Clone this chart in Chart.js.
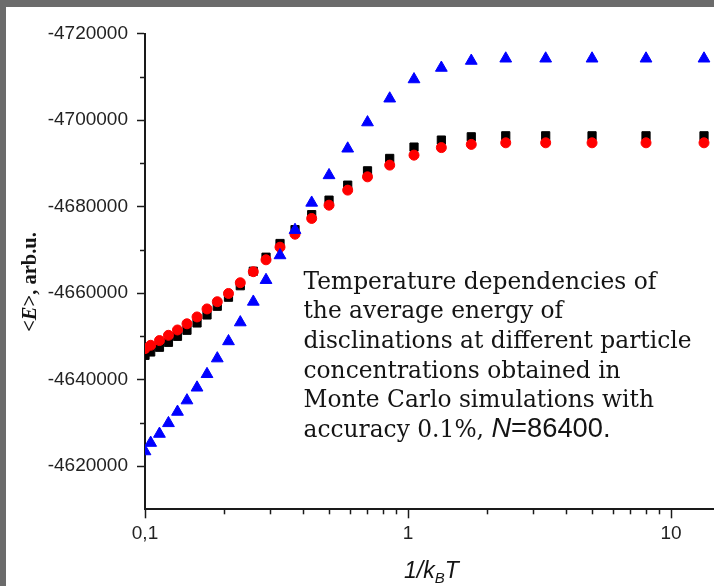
<!DOCTYPE html>
<html><head><meta charset="utf-8">
<script src="https://cdn.jsdelivr.net/npm/chart.js@4.4.1/dist/chart.umd.min.js"></script>
<style>
html,body{margin:0;padding:0;width:714px;height:586px;overflow:hidden;background:#6b6b6b;}
#wrap{position:absolute;left:6px;top:7px;width:708px;height:579px;background:#ffffff;}
canvas{display:block;}
</style></head><body>
<div id="wrap"><canvas id="c" width="708" height="579"></canvas></div>
<script>
// 1/kBT values
const xValues = [0.1, 0.1051, 0.1135, 0.1228, 0.1329, 0.1444, 0.1577, 0.1721, 0.1883, 0.2077,
  0.2303, 0.2581, 0.2885, 0.3261, 0.3719, 0.4303, 0.5009, 0.5898, 0.7015, 0.852,
  1.054, 1.339, 1.74, 2.353, 3.338, 5.009, 8.035, 13.35];
const blackSquares = [-4645600, -4646370, -4647460, -4648610, -4650000, -4651390, -4653080, -4654930, -4656940, -4659030,
  -4661690, -4665040, -4668280, -4671450, -4674650, -4678120, -4681470, -4684940, -4688250, -4691120,
  -4693740, -4695360, -4696120, -4696350, -4696350, -4696350, -4696350, -4696350];
const redCircles = [-4647150, -4647920, -4649010, -4650230, -4651460, -4652890, -4654470, -4656320, -4657990, -4659900,
  -4662380, -4664930, -4667680, -4670600, -4673600, -4677240, -4680310, -4683790, -4686860, -4689570,
  -4691880, -4693620, -4694360, -4694730, -4694730, -4694730, -4694730, -4694730];
const blueTriangles = [-4623400, -4625350, -4627440, -4629910, -4632530, -4635170, -4638130, -4641250, -4644880, -4648840,
  -4653210, -4657980, -4663000, -4668720, -4674570, -4680870, -4687230, -4693390, -4699450, -4704960,
  -4709400, -4712060, -4713680, -4714200, -4714200, -4714200, -4714200, -4714200];

const yTickValues = [-4720000, -4700000, -4680000, -4660000, -4640000, -4620000];
const yMinorTicks = [-4710000, -4690000, -4670000, -4650000, -4630000];
const xTickValues = [0.1, 1, 10];
const xTickLabels = ['0,1', '1', '10'];
const xMinorTicks = [0.2, 0.3, 0.4, 0.5, 0.6, 0.7, 0.8, 0.9, 2, 3, 4, 5, 6, 7, 8, 9];
const annotationLines = [
  'Temperature dependencies of',
  'the average energy of',
  'disclinations at different particle',
  'concentrations obtained in',
  'Monte Carlo simulations with'
];
const annotationLast = ['accuracy 0.1%, ', 'N', '=86400.'];

const toPts = ys => xValues.map((x, i) => ({x: x, y: ys[i]}));
const AX = '#1a1a1a';

const extras = {
  id: 'extras',
  afterDraw(chart) {
    const ctx = chart.ctx, xs = chart.scales.x, ys = chart.scales.y;
    ctx.save();
    ctx.strokeStyle = AX; ctx.lineWidth = 1.5;
    xMinorTicks.forEach(v => {
      const px = Math.round(xs.getPixelForValue(v)) + 0.5;
      ctx.beginPath(); ctx.moveTo(px, ys.bottom); ctx.lineTo(px, ys.bottom + 5); ctx.stroke();
    });
    yMinorTicks.forEach(v => {
      const py = Math.round(ys.getPixelForValue(v)) + 0.5;
      ctx.beginPath(); ctx.moveTo(xs.left, py); ctx.lineTo(xs.left - 5, py); ctx.stroke();
    });
    // annotation
    ctx.fillStyle = '#141414';
    ctx.textAlign = 'left'; ctx.textBaseline = 'alphabetic';
    ctx.font = '22px "DejaVu Serif"';
    const w = ctx.measureText(annotationLines[2]).width;
    const fs = 22 * 388 / w;
    const serif = fs.toFixed(2) + 'px "DejaVu Serif"';
    const ax = 297.5, ay = 281.7, lh = 29.6;
    ctx.font = serif;
    annotationLines.forEach((t, i) => ctx.fillText(t, ax, ay + i * lh));
    let cx = ax; const ly = ay + 5 * lh;
    ctx.font = serif; ctx.fillText(annotationLast[0], cx, ly); cx += ctx.measureText(annotationLast[0]).width;
    ctx.font = 'italic ' + (fs * 1.17).toFixed(2) + 'px "Liberation Sans"'; ctx.fillText(annotationLast[1], cx, ly); cx += ctx.measureText(annotationLast[1]).width;
    ctx.font = (fs * 1.17).toFixed(2) + 'px "Liberation Sans"'; ctx.fillText(annotationLast[2], cx, ly);
    // x title
    const xt = [['1/k', 'italic 23px "Liberation Sans"', 0], ['B', 'italic 15px "Liberation Sans"', 5], ['T', 'italic 23px "Liberation Sans"', 0]];
    let tx = 398;
    xt.forEach(s => { ctx.font = s[1]; ctx.fillText(s[0], tx, 571 + s[2]); tx += ctx.measureText(s[0]).width; });
    // y title
    const yt = [['<', 'bold 20.5px "Liberation Serif"'], ['E', 'bold italic 20.5px "Liberation Serif"'], ['>, arb.u.', 'bold 20.5px "Liberation Serif"']];
    ctx.translate(30, 275); ctx.rotate(-Math.PI / 2);
    let yw = 0; yt.forEach(s => { ctx.font = s[1]; yw += ctx.measureText(s[0]).width; });
    let yx = -yw / 2;
    yt.forEach(s => { ctx.font = s[1]; ctx.fillText(s[0], yx, 0); yx += ctx.measureText(s[0]).width; });
    ctx.restore();
  }
};

new Chart(document.getElementById('c'), {
  type: 'scatter',
  data: {
    datasets: [
      {data: toPts(blueTriangles), pointStyle: 'triangle', pointRadius: 6.8, borderWidth: 1, backgroundColor: '#0000ff', borderColor: '#0000ff'},
      {data: toPts(redCircles), pointStyle: 'circle', pointRadius: 5, borderWidth: 1, backgroundColor: '#ff0000', borderColor: '#ff0000'},
      {data: toPts(blackSquares), pointStyle: 'rect', pointRadius: 5.8, borderWidth: 1, backgroundColor: '#000000', borderColor: '#000000'}
    ]
  },
  options: {
    responsive: false, animation: false, devicePixelRatio: 1,
    events: [],
    layout: {autoPadding: false, padding: {top: 26.5, right: 0, left: 0, bottom: 0}},
    plugins: {legend: {display: false}, tooltip: {enabled: false}},
    scales: {
      x: {
        type: 'logarithmic', min: 0.1, max: 14.57,
        afterBuildTicks: s => { s.ticks = xTickValues.map(v => ({value: v})); },
        afterFit: s => { s.height = 76.7; s.paddingRight = 0; s.paddingLeft = 0; },
        ticks: {
          autoSkip: false, maxRotation: 0, padding: 4, color: '#222',
          font: {family: '"Liberation Sans"', size: 19},
          callback: v => { const i = xTickValues.findIndex(t => Math.abs(t - v) < 1e-9); return i >= 0 ? xTickLabels[i] : ''; }
        },
        grid: {display: true, drawOnChartArea: false, drawTicks: true, tickLength: 9, tickColor: AX, tickWidth: 1.5},
        border: {display: true, color: AX, width: 2}
      },
      y: {
        type: 'linear', min: -4720000, max: -4610000, reverse: true,
        afterBuildTicks: s => { s.ticks = yTickValues.map(v => ({value: v})); },
        afterFit: s => { s.width = 139; },
        ticks: {
          autoSkip: false, padding: 9, color: '#222',
          font: {family: '"Liberation Sans"', size: 19},
          callback: v => String(v)
        },
        grid: {display: true, drawOnChartArea: false, drawTicks: true, tickLength: 8, tickColor: AX, tickWidth: 1.5},
        border: {display: true, color: AX, width: 2}
      }
    }
  },
  plugins: [extras]
});
</script>
</body></html>
